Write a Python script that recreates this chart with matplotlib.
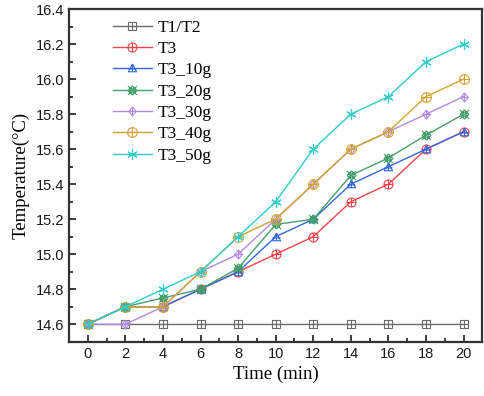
import numpy as np
import matplotlib
matplotlib.use("Agg")
import matplotlib.pyplot as plt
from matplotlib.path import Path

plt.rcParams["font.family"] = "sans-serif"
plt.rcParams["font.sans-serif"] = ["Liberation Sans"]

# dados
time_min = [0, 2, 4, 6, 8, 10, 12, 14, 16, 18, 20]
t1_t2  = [14.6] * 11
t3     = [14.6, 14.7, 14.7, 14.8, 14.9, 15.0, 15.1, 15.3, 15.4, 15.6, 15.7]
t3_10g = [14.6, 14.7, 14.7, 14.8, 14.9, 15.1, 15.2, 15.4, 15.5, 15.6, 15.7]
t3_20g = [14.6, 14.7, 14.75, 14.8, 14.92, 15.17, 15.2, 15.45, 15.55, 15.68, 15.8]
t3_30g = [14.6, 14.6, 14.7, 14.9, 15.0, 15.2, 15.4, 15.6, 15.7, 15.8, 15.9]
t3_40g = [14.6, 14.7, 14.7, 14.9, 15.1, 15.2, 15.4, 15.6, 15.7, 15.9, 16.0]
t3_50g = [14.6, 14.7, 14.8, 14.9, 15.1, 15.3, 15.6, 15.8, 15.9, 16.1, 16.2]

labels = ["T1/T2", "T3", "T3_10g", "T3_20g", "T3_30g", "T3_40g", "T3_50g"]
series = [t1_t2, t3, t3_10g, t3_20g, t3_30g, t3_40g, t3_50g]
colors = ["#6b6b6b", "#f0454a", "#3468d8", "#45a06c", "#b08ae4", "#d4a22e", "#30cbcb"]


def seg(*pts):
    codes = [Path.MOVETO] + [Path.LINETO] * (len(pts) - 1)
    return Path(pts, codes)


cross = Path.make_compound_path(seg((-1, 0), (1, 0)), seg((0, -1), (0, 1)))
xcross = Path.make_compound_path(seg((-1, -1), (1, 1)), seg((-1, 1), (1, -1)))
square = seg((-1, -1), (1, -1), (1, 1), (-1, 1), (-1, -1))
circle = Path.unit_circle()
tri = seg((0, 1.1), (1, -0.8), (-1, -0.8), (0, 1.1))
diamond = seg((0, 1.2), (1, 0), (0, -1.2), (-1, 0), (0, 1.2))
sq_small = seg((-0.5, -0.5), (0.5, -0.5), (0.5, 0.5), (-0.5, 0.5), (-0.5, -0.5))

m_sq_plus = Path.make_compound_path(square, cross)
m_circ_plus = Path.make_compound_path(circle, cross)
m_tri_plus = Path.make_compound_path(tri, seg((-1, -0.1), (1, -0.1)), seg((0, -0.8), (0, 1.1)))
m_sq_x = Path.make_compound_path(xcross, sq_small,
                                 seg((-1, 0), (0, 1), (1, 0), (0, -1), (-1, 0)))
m_dia_plus = Path.make_compound_path(diamond, cross)
markers = [m_sq_plus, m_circ_plus, m_tri_plus, m_sq_x, m_dia_plus, m_circ_plus, (6, 2, 0)]
msizes = [5.5, 6.5, 6.5, 6.5, 6.5, 7, 7.5]

fig = plt.figure(figsize=(4.84, 3.96), dpi=100)
ax = fig.add_axes([0.1426, 0.137, 0.854, 0.840])

for y, lab, c, m, ms in zip(series, labels, colors, markers, msizes):
    ax.plot(time_min, y, color=c, linewidth=1.0, marker=m, markersize=ms,
            markerfacecolor="none", markeredgecolor=c, markeredgewidth=0.8,
            label=lab)

ax.set_xlim(-1, 21)
ax.set_ylim(14.5, 16.4)
ax.set_xticks(np.arange(0, 21, 2))
ax.set_xticks(np.arange(1, 21, 2), minor=True)
ax.set_yticks(np.arange(14.6, 16.41, 0.2))
ax.set_yticks(np.arange(14.5, 16.41, 0.1), minor=True)
ax.yaxis.set_major_formatter(matplotlib.ticker.FormatStrFormatter("%.1f"))

ax.tick_params(which="both", direction="in", top=False, right=False,
               colors="#1a1a1a", width=1.2)
ax.tick_params(which="major", length=5, labelsize=10.5)
ax.tick_params(which="minor", length=3)
for s in ax.spines.values():
    s.set_linewidth(1.6)
    s.set_color("#333333")

ax.set_xlabel("Time (min)", family="Liberation Serif", fontsize=13.5, labelpad=4)
ax.set_ylabel("Temperature(\u00b0C)", family="Liberation Serif", fontsize=13.5, labelpad=4)

ax.legend(loc="upper left", bbox_to_anchor=(0.08, 1.0), frameon=False,
          prop={"family": "Liberation Serif", "size": 12.5},
          handlelength=2.3, handletextpad=0.3, labelspacing=0.3,
          borderaxespad=0.2)

fig.savefig("out.png", dpi=100)
